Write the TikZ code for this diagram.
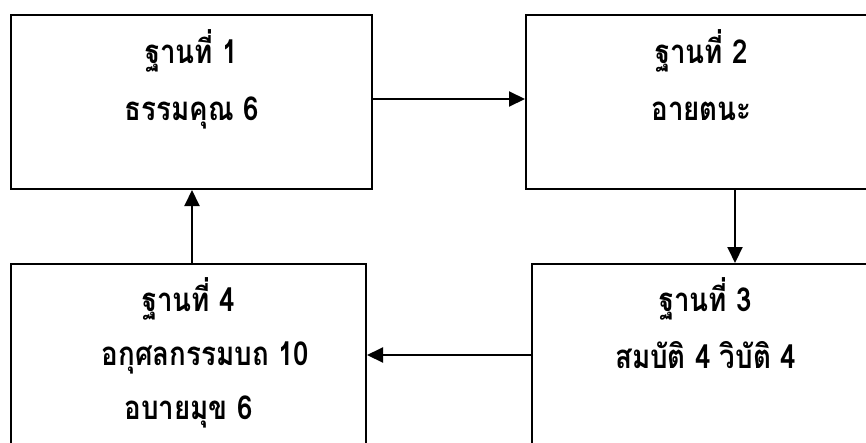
\documentclass[tikz,border=0pt]{standalone}
\usepackage{fontspec}
\setmainfont[Script=Thai,FakeStretch=0.84]{Loma}
\usetikzlibrary{arrows.meta}

\tikzset{
  stagebox/.style={draw,line width=2pt,anchor=north west,inner sep=0pt},
  stagetext/.style={align=center,anchor=base,inner sep=0pt,
    font=\bfseries\fontsize{33}{57}\selectfont},
  flow/.style={line width=2pt,-{Triangle[length=16pt,width=15pt]}}
}

\begin{document}
\begin{tikzpicture}[x=1pt,y=-1pt]
  \useasboundingbox (0,0) rectangle (866,442);
  \clip (0,0) rectangle (866,442);
  \node[stagebox,minimum width=361pt,minimum height=174pt] (s1) at (10,14){};
  \node[stagebox,minimum width=351pt,minimum height=174pt] (s2) at (525,14){};
  \node[stagebox,minimum width=347pt,minimum height=197pt] (s3) at (531,263){};
  \node[stagebox,minimum width=355pt,minimum height=197pt] (s4) at (10,263){};
  % anchor base = baseline of the last line
  \node[stagetext] (t1) at ([yshift=-106pt]s1.north){ฐานที่ 1\\ธรรมคุณ 6};
  \node[stagetext] (t2) at ([yshift=-106pt]s2.north){ฐานที่ 2\\อายตนะ};
  \node[stagetext] (t3) at ([yshift=-105pt]s3.north){ฐานที่ 3\\สมบัติ 4 วิบัติ 4};
  \node[stagetext,font=\bfseries\fontsize{33}{54}\selectfont] (t4)
    at ([yshift=-156pt]s4.north){ฐานที่ 4\\\hspace*{34pt}อกุศลกรรมบถ 10\\อบายมุข 6};
  \draw[flow] ([yshift=3pt]s1.east) -- ([yshift=3pt]s2.west);
  \draw[flow] (s2.south -| 735,0) -- (s3.north -| 735,0);
  \draw[flow] (s3.west |- 0,355) -- (s4.east |- 0,355);
  \draw[flow] (s4.north -| 192,0) -- (s1.south -| 192,0);
\end{tikzpicture}
\end{document}
